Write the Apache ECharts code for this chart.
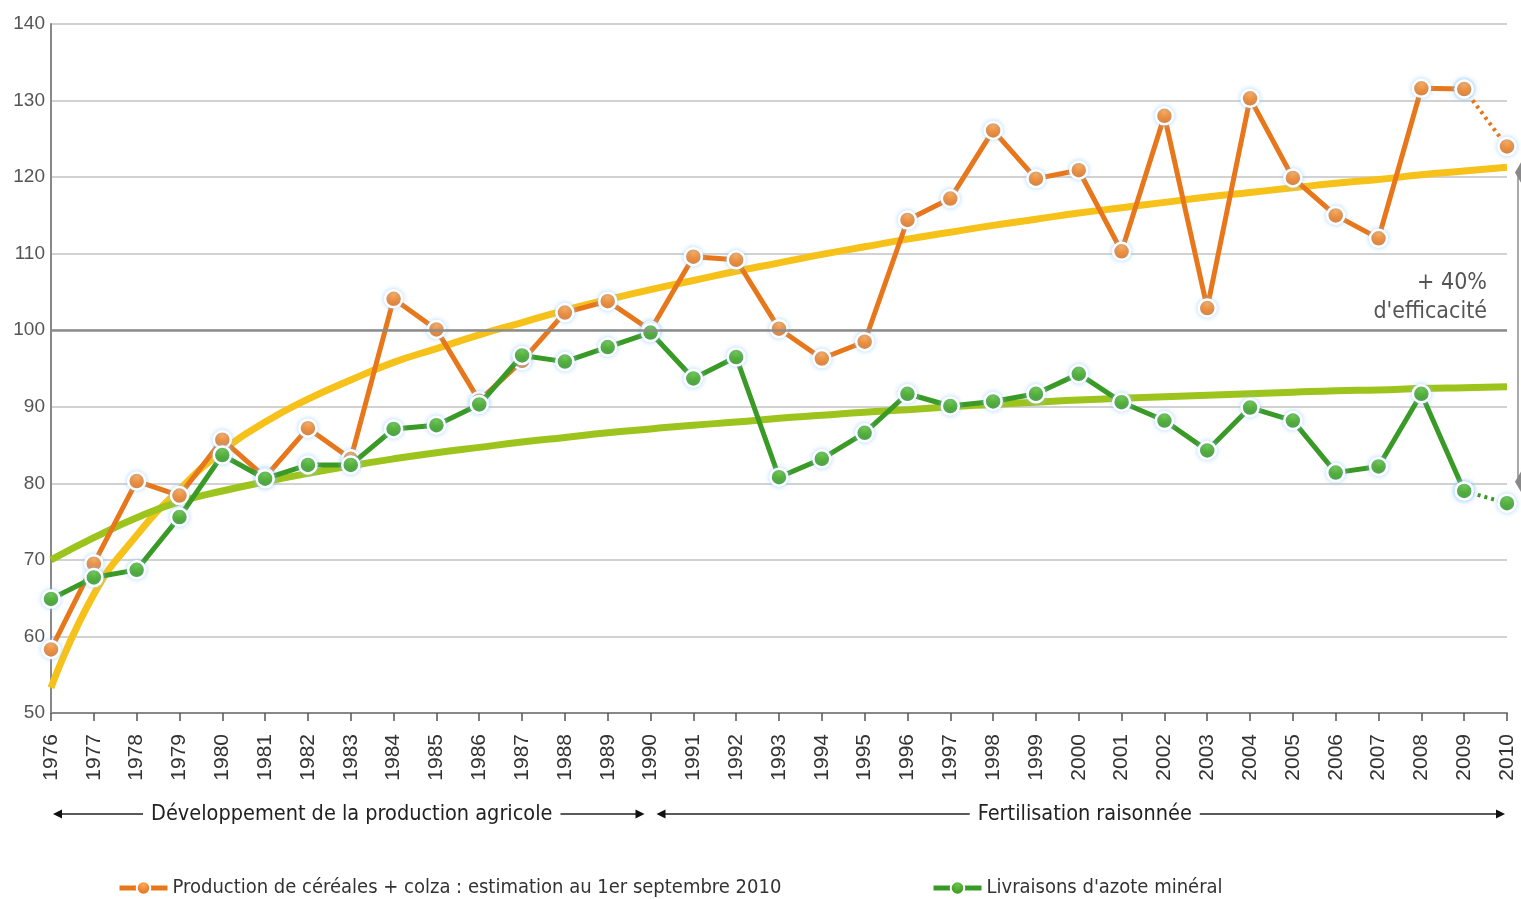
<!DOCTYPE html>
<html><head><meta charset="utf-8">
<script src="https://cdn.jsdelivr.net/npm/echarts@6/dist/echarts.min.js"></script>
<style>html,body{margin:0;padding:0;background:#fff}#c{width:1521px;height:899px}</style>
</head><body><div id="c"></div>
<script>
// ---- data ----
const years = ['1976','1977','1978','1979','1980','1981','1982','1983','1984','1985','1986','1987','1988','1989','1990','1991','1992','1993','1994','1995','1996','1997','1998','1999','2000','2001','2002','2003','2004','2005','2006','2007','2008','2009','2010'];
const production = [58.3,69.5,80.3,78.4,85.7,80.8,87.2,83.2,104.1,100.1,90.8,96.0,102.3,103.8,100.0,109.6,109.2,100.2,96.3,98.5,114.4,117.2,126.1,119.8,120.9,110.3,128.0,102.9,130.3,119.9,115.0,112.0,131.6,131.5,124.0];
const azote = [64.9,67.7,68.7,75.6,83.7,80.6,82.4,82.4,87.1,87.6,90.3,96.7,95.9,97.8,99.7,93.7,96.5,80.8,83.2,86.6,91.7,90.1,90.7,91.7,94.3,90.6,88.2,84.3,89.9,88.2,81.4,82.2,91.7,79.0,77.4];
const trendProduction = [53.3,65.5,73.2,79.2,84.2,88.0,91.0,93.5,95.8,97.6,99.4,101.0,102.6,104.0,105.3,106.5,107.7,108.8,109.9,110.9,111.9,112.8,113.7,114.5,115.3,116.0,116.7,117.4,118.0,118.6,119.2,119.7,120.3,120.8,121.3];
const trendAzote = [70.0,72.9,75.5,77.6,79.0,80.2,81.3,82.3,83.2,84.0,84.7,85.4,86.0,86.6,87.1,87.6,88.0,88.5,88.9,89.3,89.6,90.0,90.3,90.6,90.9,91.1,91.3,91.5,91.7,91.9,92.1,92.2,92.4,92.5,92.6];
const estimateFrom = '2009';
const yMin = 50, yMax = 140, yStep = 10;
const nameProduction = 'Production de céréales + colza : estimation au 1er septembre 2010';
const nameAzote = "Livraisons d'azote minéral";
const periods = [
  {label: 'Développement de la production agricole', from: '1976', to: '1990'},
  {label: 'Fertilisation raisonnée', from: '1990', to: '2010'}
];
const noteLines = ['+ 40%', "d'efficacité"];

// ---- styling ----
const NARROW = '"Liberation Sans Narrow","Arial Narrow","DejaVu Sans Condensed",sans-serif';
const SANS = '"Liberation Sans",Arial,sans-serif';
const ORANGE = '#E8761A', GREEN = '#3A9A26', YELLOW = '#F6C21A', LIME = '#9DC41C';
const estIdx = years.indexOf(estimateFrom);
const mainPart = arr => arr.map((v, i) => i <= estIdx ? v : null);
const estPart = arr => arr.map((v, i) => i >= estIdx ? v : null);
const dotMarker = (c1, c2) => ({
  color: {type: 'radial', x: 0.5, y: 0.3, r: 0.7, colorStops: [{offset: 0, color: c1}, {offset: 1, color: c2}]},
  borderColor: '#fff', borderWidth: 2.5, shadowBlur: 5, shadowColor: 'rgba(140,200,255,0.6)'
});
const orangeMarker = dotMarker('#F8A95A', '#E2680F');
const greenMarker = dotMarker('#6CC447', '#2F8E1B');

const chart = echarts.init(document.getElementById('c'), null, {renderer: 'canvas'});
chart.setOption({
  backgroundColor: '#fff',
  animation: false,
  grid: {left: 51, right: 14, top: 24, bottom: 186},
  legend: [
    {data: [nameProduction], left: 112, top: 873, itemWidth: 48, itemHeight: 17, itemGap: 10,
     lineStyle: {width: 5},
     textStyle: {fontFamily: NARROW, fontSize: 20, color: '#333'}},
    {data: [nameAzote], left: 926, top: 873, itemWidth: 48, itemHeight: 17,
     lineStyle: {width: 5},
     textStyle: {fontFamily: NARROW, fontSize: 20, color: '#333'}}
  ],
  xAxis: {
    type: 'category', data: years, boundaryGap: false,
    axisLine: {lineStyle: {color: '#888', width: 2}},
    axisTick: {show: true, inside: false, length: 8, lineStyle: {color: '#555', width: 1.5}},
    axisLabel: {rotate: 90, margin: 21, fontFamily: SANS, fontSize: 21, color: '#333', interval: 0},
    splitLine: {show: false}
  },
  yAxis: {
    type: 'value', min: yMin, max: yMax, interval: yStep,
    axisLine: {show: true, lineStyle: {color: '#888', width: 2}},
    axisTick: {show: false},
    axisLabel: {fontFamily: SANS, fontSize: 19, color: '#555', margin: 6},
    splitLine: {lineStyle: {color: '#d2d2d2', width: 2}}
  },
  series: [
    {name: 'Tendance production', type: 'line', data: trendProduction, smooth: true, symbol: 'none',
     lineStyle: {color: YELLOW, width: 7}, z: 2, silent: true},
    {name: 'Tendance azote', type: 'line', data: trendAzote, smooth: true, symbol: 'none',
     lineStyle: {color: LIME, width: 7}, z: 2, silent: true,
     markLine: {silent: true, symbol: 'none', label: {show: false},
       lineStyle: {color: '#8c8c8c', width: 2.5, type: 'solid'}, data: [{yAxis: 100}]}},
    {name: nameProduction, type: 'line', data: mainPart(production), symbol: 'circle', symbolSize: 17,
     showAllSymbol: true, lineStyle: {color: ORANGE, width: 5}, itemStyle: orangeMarker, z: 3},
    {name: 'Production (estimation)', type: 'line', data: estPart(production), symbol: 'circle', symbolSize: 17,
     lineStyle: {color: ORANGE, width: 4, type: [3, 4]}, itemStyle: orangeMarker, z: 3},
    {name: nameAzote, type: 'line', data: mainPart(azote), symbol: 'circle', symbolSize: 17,
     showAllSymbol: true, lineStyle: {color: GREEN, width: 5}, itemStyle: greenMarker, z: 4},
    {name: 'Azote (estimation)', type: 'line', data: estPart(azote), symbol: 'circle', symbolSize: 17,
     lineStyle: {color: GREEN, width: 4, type: [3, 4]}, itemStyle: greenMarker, z: 4}
  ]
});

// ---- annotations placed from the axes ----
const px = y => chart.convertToPixel({xAxisIndex: 0}, y);
const py = v => chart.convertToPixel({yAxisIndex: 0}, v);
const base = py(yMin);
const arrowY = base + 101;
const g = [];
periods.forEach((p, k) => {
  const x1 = px(p.from) + (k === 0 ? 2 : 6);
  const x2 = px(p.to) - (k === 0 ? 6 : 2);
  g.push({type: 'line', shape: {x1: x1 + 4, y1: arrowY, x2: x2 - 4, y2: arrowY}, style: {stroke: '#222', lineWidth: 1.6}, z: 10});
  g.push({type: 'polygon', shape: {points: [[x1, arrowY], [x1 + 9, arrowY - 4.5], [x1 + 9, arrowY + 4.5]]}, style: {fill: '#111'}, z: 10});
  g.push({type: 'polygon', shape: {points: [[x2, arrowY], [x2 - 9, arrowY - 4.5], [x2 - 9, arrowY + 4.5]]}, style: {fill: '#111'}, z: 10});
  g.push({type: 'text', x: (x1 + x2) / 2 + (k === 0 ? 3 : 4), y: arrowY, z: 11,
    style: {text: p.label, font: '21.5px ' + NARROW, fill: '#222', align: 'center', verticalAlign: 'middle',
      backgroundColor: '#fff', padding: [0, 8]}});
});
const xRight = px(years[years.length - 1]);
g.push({type: 'text', x: xRight - 20, y: py(106.1), z: 11,
  style: {text: noteLines[0], font: '23px ' + NARROW, fill: '#555', align: 'right', verticalAlign: 'middle'}});
g.push({type: 'text', x: xRight - 20, y: py(102.4), z: 11,
  style: {text: noteLines[1], font: '23px ' + NARROW, fill: '#555', align: 'right', verticalAlign: 'middle'}});
// bracket at right edge
const bx = xRight + 11;
g.push({type: 'line', shape: {x1: bx, y1: py(120.3), x2: bx, y2: py(80.3)}, style: {stroke: '#aaa', lineWidth: 2}, z: 9});
g.push({type: 'polygon', shape: {points: [[bx - 3, py(120.6)], [bx + 6, py(122.6)], [bx + 6, py(118.6)]]}, style: {fill: '#888'}, z: 9});
g.push({type: 'polygon', shape: {points: [[bx - 3, py(80.2)], [bx + 6, py(82.2)], [bx + 6, py(78.2)]]}, style: {fill: '#888'}, z: 9});
chart.setOption({graphic: g});
</script>
</body></html>
